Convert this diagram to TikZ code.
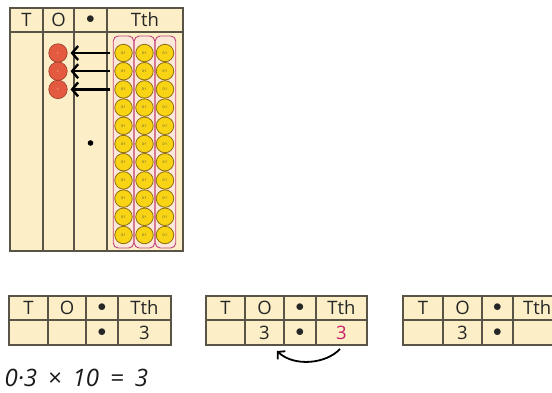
\documentclass[tikz,border=0pt]{standalone}
\usepackage{fontspec}
\setmainfont{Open Sans}
\usetikzlibrary{arrows.meta, positioning, calc}
\definecolor{pvCream}{HTML}{FCEFC8}
\definecolor{pvLine}{HTML}{5A5446}
\definecolor{ctrRed}{HTML}{E45A40}
\definecolor{ctrRedEdge}{HTML}{9A3A28}
\definecolor{ctrYellow}{HTML}{F8D414}
\definecolor{ctrEdge}{HTML}{8C6C14}
\definecolor{grpPink}{HTML}{C2447E}
\definecolor{grpFill}{HTML}{FBE8D8}
\definecolor{digitPink}{HTML}{C8206A}

\begin{document}
\begin{tikzpicture}[x=1pt, y=-1pt,
    grid/.style={pvLine, line width=1.4pt},
    cell/.style={font=\fontsize{18.5}{18.5}\selectfont, text=black!85, inner sep=0pt},
    rcounter/.style={circle, fill=ctrRed, draw=ctrRedEdge, line width=0.6pt, minimum size=18.5pt, inner sep=0pt, font=\fontsize{3}{3}\selectfont, text=white},
    ycounter/.style={circle, fill=ctrYellow, draw=ctrEdge, line width=0.8pt, minimum size=17.5pt, inner sep=0pt, font=\fontsize{3.5}{3.5}\selectfont, text=black!70},
    group/.style={draw=grpPink, fill=grpFill, line width=0.9pt, rounded corners=5pt, minimum width=20.5pt, minimum height=212pt, inner sep=0pt},
    moveArrow/.style={line width=2.4pt, -{Straight Barb[length=6pt, width=14pt]}, shorten >=3pt},
    curveArrow/.style={line width=1.8pt, -{Straight Barb[length=5pt, width=11pt]}}]
    \useasboundingbox (0,0) rectangle (552,392);
    \clip (0,0) rectangle (552,392);

    % Place value chart
    \fill[pvCream] (10,8) rectangle (183,251);
    \draw[grid] (10,8) rectangle (183,251);
    \draw[grid] (10,32) -- (183,32);
    \foreach \x in {43, 74, 107} {
        \draw[grid] (\x,8) -- (\x,251);
    }
    \node[cell] (hT) at (26.5,20) {T};
    \node[cell] (hO) at (58.5,20) {O};
    \node[cell] (hP) at (90.5,20) {$\bullet$};
    \node[cell] (hTh) at (145,20) {Tth};
    \fill (90.5,143) circle (2.8pt);

    % Groups of ten tenths
    \node[group] (g1) at (123.5,142) {};
    \node[group] (g2) at (144.5,142) {};
    \node[group] (g3) at (165.5,142) {};
    \foreach \c/\x in {1/123.5, 2/144.5, 3/165} {
        \foreach \r in {0,...,10} {
            \node[ycounter] (y\c-\r) at (\x, 53+18.2*\r) {0·1};
        }
    }

    % Ones
    \foreach \r in {0,1,2} {
        \node[rcounter] (r\r) at (58, 53+18.2*\r) {1};
        \draw[moveArrow] ($(g1.west |- r\r)+(-3,0)$) -- (r\r.east);
    }

    % Small charts
    \foreach \n/\xa/\xb/\xc/\xd/\xe in {1/9/48/86/118/171, 2/206/245/284/316/367, 3/403/443/482/513/575} {
        \fill[pvCream] (\xa,296) rectangle (\xe,345);
        \draw[grid] (\xa,296) rectangle (\xe,345);
        \draw[grid] (\xa,320) -- (\xe,320);
        \foreach \x in {\xb, \xc, \xd} {
            \draw[grid] (\x,296) -- (\x,345);
        }
        \node[cell] (t\n T) at ({(\xa+\xb)/2},308) {T};
        \node[cell] (t\n O) at ({(\xb+\xc)/2},308) {O};
        \node[cell] (t\n P) at ({(\xc+\xd)/2},308) {$\bullet$};
        \node[cell] (b\n P) at ({(\xc+\xd)/2},332.5) {$\bullet$};
    }
    \node[cell] (t1Th) at (144.5,308) {Tth};
    \node[cell] (t2Th) at (341.5,308) {Tth};
    \node[cell, anchor=east] (t3Th) at (551.5,308) {Tth};
    \node[cell] (b1Th) at (144.5,332.5) {3};
    \node[cell] (b2O) at (264.5,332.5) {3};
    \node[cell, text=digitPink] (b2Th) at (341.5,332.5) {3};
    \node[cell] (b3O) at (462.5,332.5) {3};

    % Digit moves one place
    \coordinate (arrS) at (340,349);
    \coordinate (arrE) at (277,351);
    \draw[curveArrow] (arrS) .. controls (326,364) and (294,367) .. (arrE);

    % Calculation
    \node[anchor=base west, font=\fontsize{24}{24}\selectfont\itshape, text=black!90] (calc) at (1,386)
        {0·3\hspace{11pt}×\hspace{11pt}10\hspace{11pt}=\hspace{11pt}3};
\end{tikzpicture}
\end{document}
